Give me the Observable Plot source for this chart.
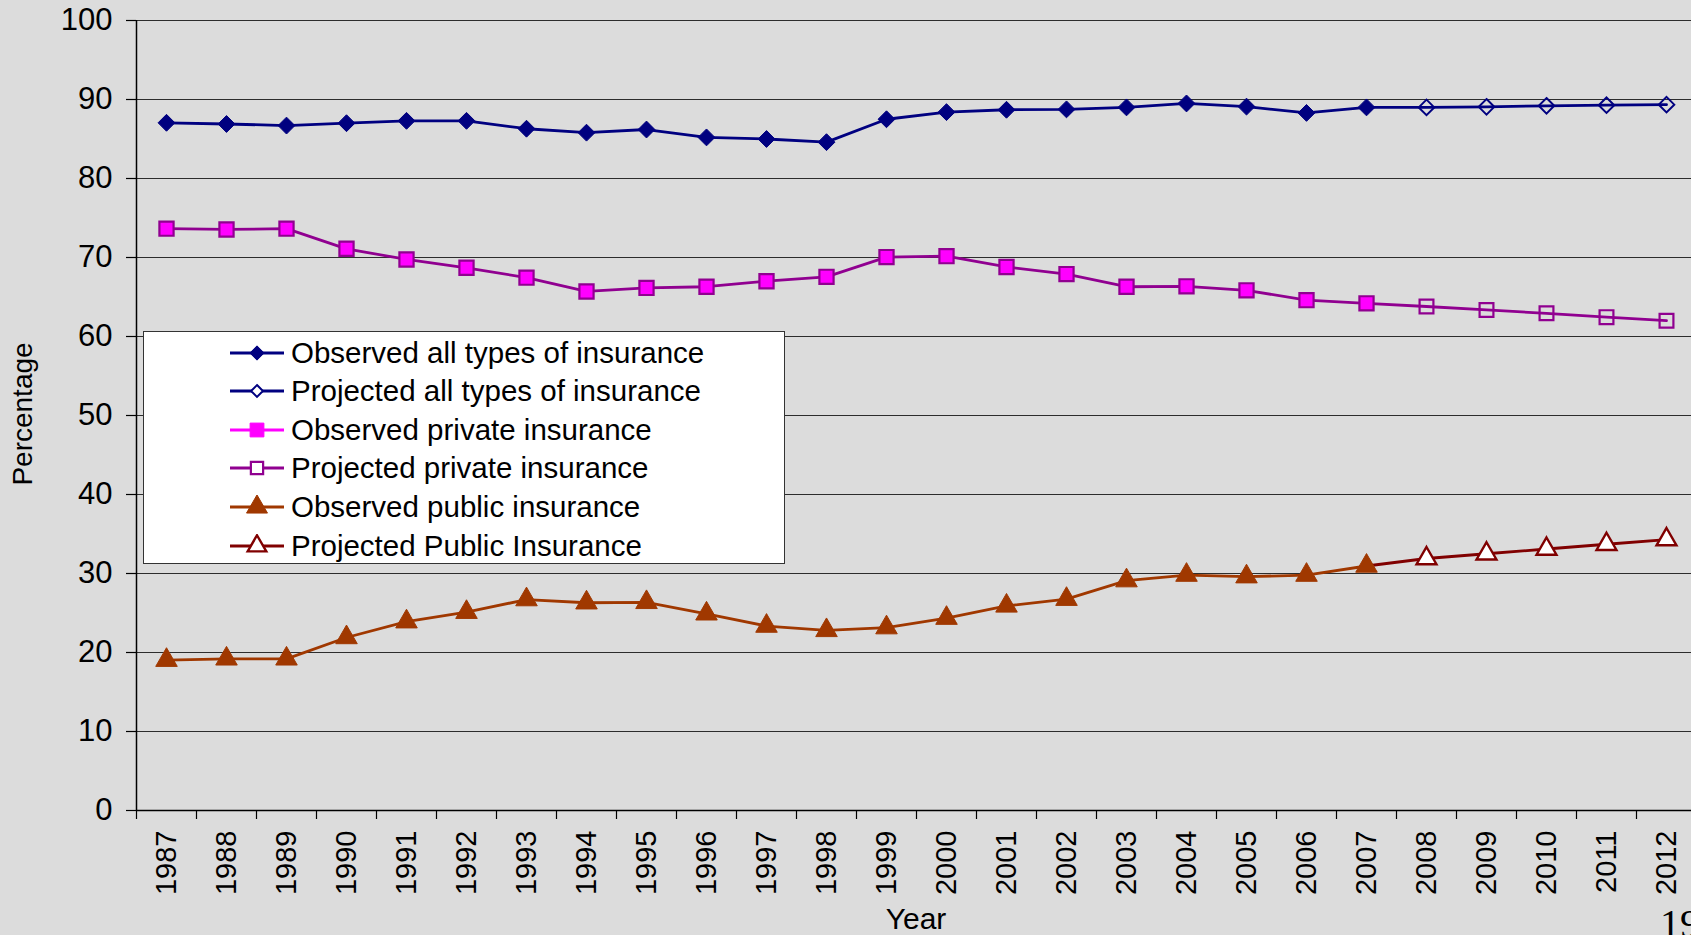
<!DOCTYPE html>
<html>
<head>
<meta charset="utf-8">
<script src="https://cdn.jsdelivr.net/npm/d3@7"></script>
<script src="https://cdn.jsdelivr.net/npm/@observablehq/plot@0.6"></script>
<style>
  html, body { margin: 0; padding: 0; background: #dcdcdc; overflow: hidden; }
  #wrap { position: relative; width: 1691px; height: 935px; overflow: hidden; background: #dcdcdc; font-family: "Liberation Sans", Arial, sans-serif; }
  #legend { position: absolute; left: 143px; top: 331px; width: 642px; height: 233px; background: #fff; border: 1px solid #333; box-sizing: border-box; }
  .entry { position: absolute; left: 0; height: 32px; width: 640px; }
  .entry svg { position: absolute; left: 84px; top: 4px; }
  .entry span { position: absolute; left: 147px; top: 0; font-size: 29.5px; line-height: 32px; color: #000; white-space: nowrap; }
  #overlay { position: absolute; left: 0; top: 0; pointer-events: none; }
</style>
</head>
<body>
<div id="wrap"></div>
<script>
// ---- data ----
const years = [1987, 1988, 1989, 1990, 1991, 1992, 1993, 1994, 1995, 1996, 1997, 1998, 1999,
               2000, 2001, 2002, 2003, 2004, 2005, 2006, 2007, 2008, 2009, 2010, 2011, 2012];
const observedYears = [1987, 1988, 1989, 1990, 1991, 1992, 1993, 1994, 1995, 1996, 1997, 1998, 1999,
                       2000, 2001, 2002, 2003, 2004, 2005, 2006, 2007];
const projectedYears = [2008, 2009, 2010, 2011, 2012];

const allObserved  = [87.05, 86.9, 86.7, 87.0, 87.3, 87.3, 86.3, 85.8, 86.2, 85.2, 85.0, 84.6, 87.5,
                      88.4, 88.7, 88.75, 89.0, 89.5, 89.1, 88.3, 89.0];
const allProjected = [89.0, 89.07, 89.2, 89.28, 89.35];

const privateObserved  = [73.65, 73.55, 73.65, 71.1, 69.75, 68.7, 67.45, 65.7, 66.15, 66.3, 67.0, 67.55, 70.05,
                          70.17, 68.8, 67.9, 66.3, 66.35, 65.84, 64.6, 64.2];
const privateProjected = [63.8, 63.36, 62.94, 62.45, 62.0];

const publicObserved  = [19.03, 19.2, 19.2, 21.9, 23.9, 25.1, 26.7, 26.3, 26.35, 24.9, 23.35, 22.8, 23.15,
                         24.35, 25.9, 26.75, 29.1, 29.8, 29.6, 29.8, 30.95];
const publicProjected = [31.9, 32.5, 33.1, 33.7, 34.3];

const yTicks = [0, 10, 20, 30, 40, 50, 60, 70, 80, 90, 100];

const legendLabels = [
  "Observed all types of insurance",
  "Projected all types of insurance",
  "Observed private insurance",
  "Projected private insurance",
  "Observed public insurance",
  "Projected Public Insurance"
];

// ---- styles ----
const NAVY = "#000080", MAGENTA = "#ff00ff", PURPLE = "#900090", RUST = "#a03800", DARKRED = "#800000";

// ---- tables ----
const toRows = (ys, vs) => ys.map((year, i) => ({year, value: vs[i]}));
const allObs = toRows(observedYears, allObserved);
const allProj = toRows(projectedYears, allProjected);
const privObs = toRows(observedYears, privateObserved);
const privProj = toRows(projectedYears, privateProjected);
const pubObs = toRows(observedYears, publicObserved);
const pubProj = toRows(projectedYears, publicProjected);
const privAll = privObs.concat(privProj);
const link = (obs, proj) => [obs[obs.length - 1], ...proj];

const bounds = years.map(y => y - 0.5).concat([years[years.length - 1] + 0.5]);

const W = 1691, H = 935;
const left = 136, band = 60;

const chart = Plot.plot({
  width: W,
  height: H,
  marginLeft: left,
  marginTop: 20,
  marginBottom: 125,
  marginRight: 0,
  style: {background: "transparent", fontFamily: "'Liberation Sans', Arial, sans-serif", fontSize: "29px", color: "#000", overflow: "visible"},
  x: {type: "linear", domain: [years[0] - 0.5, years[years.length - 1] + 0.5], range: [left, left + band * years.length]},
  y: {domain: [0, 100]},
  marks: [
    Plot.gridY({ticks: yTicks, stroke: "#1a1a1a", strokeOpacity: 0.9, strokeWidth: 1.1}),
    Plot.ruleY([0], {stroke: "#000", strokeWidth: 1.5}),
    Plot.ruleX([years[0] - 0.5], {stroke: "#000", strokeWidth: 1.5}),
    Plot.axisY({ticks: yTicks, tickSize: 10, tickPadding: 14, label: null, stroke: "#000", strokeWidth: 1.2, fontSize: 31}),
    Plot.axisX({ticks: bounds, tickSize: 9, tickFormat: () => "", label: null, stroke: "#000", strokeWidth: 1.2}),
    Plot.axisX({ticks: years, tickSize: 0, tickRotate: -90, tickPadding: 20, tickFormat: d => String(d), label: null}),
    // lines
    Plot.line(allObs, {x: "year", y: "value", stroke: NAVY, strokeWidth: 2.8}),
    Plot.line(link(allObs, allProj), {x: "year", y: "value", stroke: NAVY, strokeWidth: 2.8}),
    Plot.line(privAll, {x: "year", y: "value", stroke: PURPLE, strokeWidth: 2.8}),
    Plot.line(pubObs, {x: "year", y: "value", stroke: RUST, strokeWidth: 2.8}),
    Plot.line(link(pubObs, pubProj), {x: "year", y: "value", stroke: DARKRED, strokeWidth: 2.8}),
    // markers
    Plot.dot(allObs, {x: "year", y: "value", symbol: "diamond2", r: 7.6, fill: NAVY, stroke: NAVY, strokeWidth: 1}),
    Plot.dot(allProj, {x: "year", y: "value", symbol: "diamond2", r: 7.0, fill: "none", stroke: NAVY, strokeWidth: 2}),
    Plot.dot(privObs, {x: "year", y: "value", symbol: "square", r: 8.0, fill: MAGENTA, stroke: PURPLE, strokeWidth: 2.2}),
    Plot.dot(privProj, {x: "year", y: "value", symbol: "square", r: 7.8, fill: "none", stroke: PURPLE, strokeWidth: 2.2}),
    Plot.dot(pubObs, {x: "year", y: "value", symbol: "triangle", r: 8.0, fill: RUST, stroke: RUST, strokeWidth: 1}),
    Plot.dot(pubProj, {x: "year", y: "value", symbol: "triangle", r: 7.4, fill: "#fff", stroke: DARKRED, strokeWidth: 2.4})
  ]
});

const wrap = document.getElementById("wrap");
wrap.appendChild(chart);

// ---- legend ----
const legendSpecs = [
  {line: NAVY, type: d3.symbolDiamond2, size: 130, fill: NAVY, stroke: NAVY, sw: 1},
  {line: NAVY, type: d3.symbolDiamond2, size: 90, fill: "#fff", stroke: NAVY, sw: 2},
  {line: MAGENTA, type: d3.symbolSquare, size: 190, fill: MAGENTA, stroke: MAGENTA, sw: 1},
  {line: PURPLE, type: d3.symbolSquare, size: 150, fill: "#fff", stroke: PURPLE, sw: 2.2},
  {line: RUST, type: d3.symbolTriangle, size: 190, fill: RUST, stroke: RUST, sw: 1},
  {line: DARKRED, type: d3.symbolTriangle, size: 150, fill: "#fff", stroke: DARKRED, sw: 2.4}
];
const legend = d3.select(wrap).append("div").attr("id", "legend");
legendLabels.forEach((label, i) => {
  const spec = legendSpecs[i];
  const e = legend.append("div").attr("class", "entry").style("top", (4.5 + 38.6 * i) + "px");
  const s = e.append("svg").attr("width", 60).attr("height", 24);
  s.append("line").attr("x1", 2).attr("x2", 56).attr("y1", 12).attr("y2", 12)
    .attr("stroke", spec.line).attr("stroke-width", 2.8);
  s.append("path").attr("d", d3.symbol(spec.type, spec.size)())
    .attr("transform", "translate(29,12)")
    .attr("fill", spec.fill).attr("stroke", spec.stroke).attr("stroke-width", spec.sw);
  e.append("span").text(label);
});

// ---- titles ----
const ov = d3.select(wrap).append("svg").attr("id", "overlay").attr("width", W).attr("height", H);
ov.append("text").text("Percentage")
  .attr("transform", "translate(32,414) rotate(-90)")
  .attr("text-anchor", "middle")
  .style("font-family", "'Liberation Sans', Arial, sans-serif").style("font-size", "28px");
ov.append("text").text("Year")
  .attr("x", 916).attr("y", 929)
  .attr("text-anchor", "middle")
  .style("font-family", "'Liberation Sans', Arial, sans-serif").style("font-size", "30px");
ov.append("text").text("19")
  .attr("x", 1660).attr("y", 937)
  .style("font-family", "'Liberation Serif', 'Times New Roman', serif").style("font-size", "40px");
</script>
</body>
</html>
